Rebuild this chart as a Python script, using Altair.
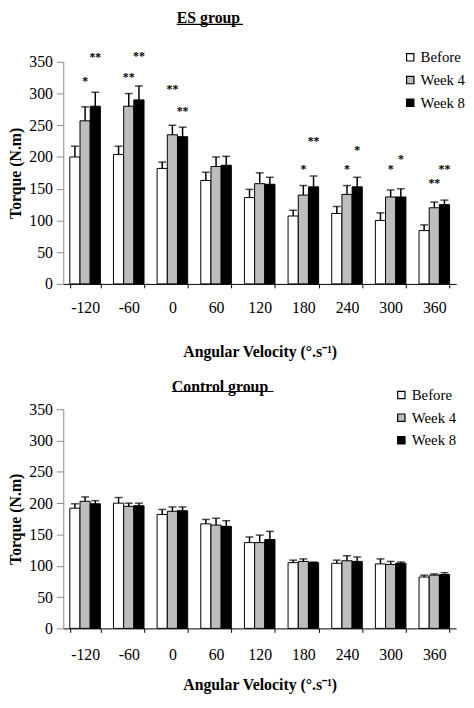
import altair as alt
import pandas as pd

# angular velocity categories and the three measurement times
velocities = ["-120", "-60", "0", "60", "120", "180", "240", "300", "360"]
series = ["Before", "Week 4", "Week 8"]
fills = ["#ffffff", "#bdbdbd", "#000000"]

# ES group: mean torque and SD (upper error bar only)
es_before = [200, 204, 182, 163, 136, 107, 111, 100, 84]
es_before_err = [17, 13, 10, 13, 13, 9, 11, 12, 9]
es_week4 = [257, 280, 235, 185, 158, 140, 141, 137, 120]
es_week4_err = [22, 20, 15, 15, 17, 15, 14, 11, 9]
es_week8 = [280, 290, 232, 187, 157, 153, 153, 137, 125]
es_week8_err = [22, 22, 15, 14, 11, 17, 15, 13, 7]

# Control group
ctrl_before = [192, 200, 182, 167, 137, 105, 104, 103, 82]
ctrl_before_err = [7, 9, 8, 7, 9, 4, 5, 8, 3]
ctrl_week4 = [203, 195, 187, 165, 137, 107, 108, 102, 85]
ctrl_week4_err = [7, 5, 7, 11, 12, 4, 8, 5, 2]
ctrl_week8 = [199, 196, 188, 163, 142, 105, 107, 104, 86]
ctrl_week8_err = [5, 4, 6, 9, 13, 1, 7, 2, 3]

# significance marks in the ES group: velocity, series, label, height (N.m)
star_velocity = ["-120", "-120", "-60", "-60", "0", "0", "180", "180",
                 "240", "240", "300", "300", "360", "360"]
star_series = ["Week 4", "Week 8"] * 7
star_label = ["*", "**", "**", "**", "**", "**", "*", "**",
              "*", "*", "*", "*", "**", "**"]
star_height = [324, 362, 331, 364, 311, 277, 185, 229,
               185, 216, 185, 201, 164, 185]

SERIF = "Liberation Serif"


def make_frame(before, before_err, week4, week4_err, week8, week8_err):
    rows = []
    for s, vals, errs in zip(series, [before, week4, week8],
                             [before_err, week4_err, week8_err]):
        for v, t, e in zip(velocities, vals, errs):
            rows.append({"velocity": v, "series": s, "torque": t, "upper": t + e})
    return pd.DataFrame(rows)


es_df = make_frame(es_before, es_before_err, es_week4, es_week4_err, es_week8, es_week8_err)
ctrl_df = make_frame(ctrl_before, ctrl_before_err, ctrl_week4, ctrl_week4_err,
                     ctrl_week8, ctrl_week8_err)
stars_df = pd.DataFrame({"velocity": star_velocity, "series": star_series,
                         "label": star_label, "height": star_height})


def x_enc(label_pad, title_pad):
    return alt.X("velocity:N", sort=velocities,
                 scale=alt.Scale(paddingInner=0.3, paddingOuter=0.15),
                 axis=alt.Axis(title="Angular Velocity (°.s⁻¹)", labelAngle=0,
                               tickBand="extent", tickSize=4,
                               labelPadding=label_pad, titlePadding=title_pad,
                               domainColor="black", tickColor="black"))


xoff_enc = alt.XOffset("series:N", sort=series,
                       scale=alt.Scale(paddingInner=0, paddingOuter=0))
y_scale = alt.Scale(domain=[0, 350], nice=False)
y_axis = alt.Axis(title="Torque (N.m)", values=list(range(0, 351, 50)),
                  tickSize=7, labelPadding=4, titlePadding=5, grid=False,
                  domainColor="#888888", tickColor="#888888",
                  labelOverlap=False)


def panel(df, xe, title, title_pos, underline, height, legend_x, legend_y,
          stars=None):
    base = alt.Chart(df).encode(x=xe, xOffset=xoff_enc)
    bars = base.mark_bar(stroke="black", strokeWidth=1).encode(
        y=alt.Y("torque:Q", scale=y_scale, axis=y_axis),
        fill=alt.Fill("series:N", sort=series,
                      scale=alt.Scale(domain=series, range=fills),
                      legend=alt.Legend(title=None, orient="none",
                                        legendX=legend_x, legendY=legend_y,
                                        symbolType="square", symbolSize=55,
                                        symbolStrokeColor="black",
                                        symbolStrokeWidth=1.2, labelFontSize=15,
                                        labelFont=SERIF, labelColor="black",
                                        rowPadding=7, labelOffset=3,
                                        padding=0)),
    )
    err = base.mark_rule(color="black", strokeWidth=1.5).encode(
        y=alt.Y("torque:Q", scale=y_scale, axis=y_axis), y2="upper:Q")
    caps = base.mark_tick(color="black", thickness=1.5, size=8).encode(
        y=alt.Y("upper:Q", scale=y_scale, axis=y_axis))
    # panel title, bold and underlined as in the figure
    one = pd.DataFrame({"u": [0]})
    head = alt.Chart(one).mark_text(
        font=SERIF, fontSize=16, fontWeight="bold", color="black",
        align="left", baseline="top").encode(
        x=alt.value(title_pos[0]), y=alt.value(title_pos[1]),
        text=alt.value(title))
    line = alt.Chart(one).mark_rule(color="black", strokeWidth=1.2).encode(
        x=alt.value(underline[0]), x2=alt.value(underline[1]),
        y=alt.value(underline[2]))
    layers = [bars, err, caps, head, line]
    if stars is not None:
        marks = alt.Chart(stars).mark_text(
            font=SERIF, fontSize=12, fontWeight="bold", color="black",
            baseline="middle", dy=3).encode(
            x=xe, xOffset=xoff_enc,
            y=alt.Y("height:Q", scale=y_scale, axis=y_axis), text="label:N")
        layers.append(marks)
    return alt.layer(*layers).properties(width=398, height=height)


top = panel(es_df, x_enc(12, 29), "ES group", (115, -52), (115, 182, -38),
            225, 344, -12, stars_df)
bottom = panel(ctrl_df, x_enc(15, 14), "Control group", (110, -30), (110, 213, -18),
               222, 335, -22)

chart = alt.vconcat(top, bottom, spacing=20,
                    padding={"top": -2, "left": 0, "right": 0, "bottom": 0}
).resolve_legend(
    fill="independent"
).resolve_scale(
    fill="independent"
).configure(font=SERIF).configure_view(
    stroke=None
).configure_axis(
    labelFont=SERIF, titleFont=SERIF,
    labelFontSize=16, titleFontSize=16, labelColor="black", titleColor="black"
)

chart.save("out.html", embed_options={"renderer": "svg", "actions": False})
